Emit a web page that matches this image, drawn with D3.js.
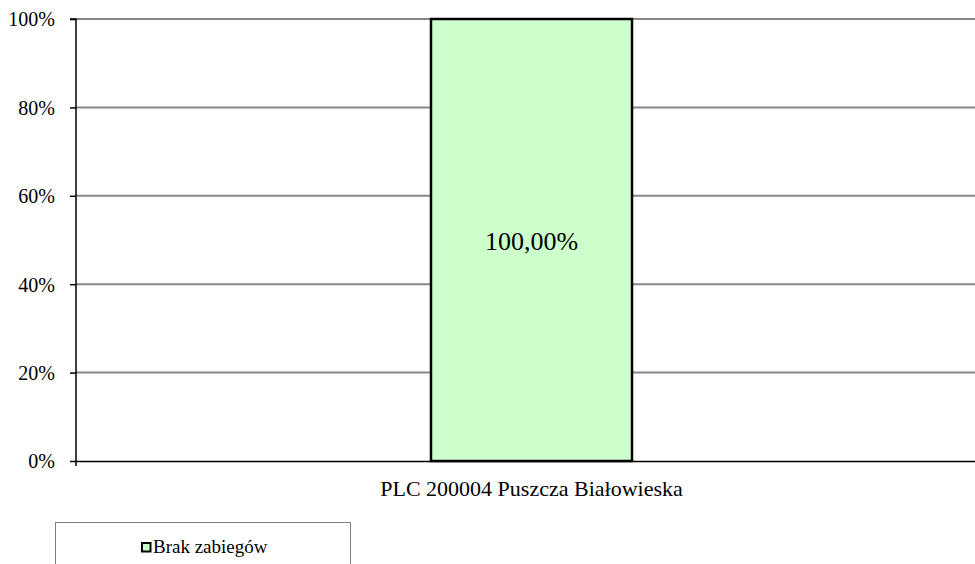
<!DOCTYPE html>
<html>
<head>
<meta charset="utf-8">
<script src="https://cdn.jsdelivr.net/npm/d3@7"></script>
<style>
  html, body { margin: 0; padding: 0; background: #fff; }
  svg { display: block; }
  svg text { font-family: "Liberation Serif", "Times New Roman", "DejaVu Serif", serif; fill: #000; }
</style>
</head>
<body>
<svg id="chart" width="975" height="564"></svg>
<script>
// Data
const categories = ["PLC 200004 Puszcza Białowieska"];
const seriesName = "Brak zabiegów";
const seriesValues = [1.0];
const valueLabels = ["100,00%"];
const yTicks = [0, 0.2, 0.4, 0.6, 0.8, 1.0];
const yTickLabels = ["0%", "20%", "40%", "60%", "80%", "100%"];

(function draw() {
  const svg = d3.select("#chart");

  const plotLeft = 76, plotRight = 987, plotTop = 19, plotBottom = 461;

  const x = d3.scaleBand()
    .domain(categories)
    .range([plotLeft, plotRight])
    .paddingInner(0)
    .paddingOuter(1.766);

  const y = d3.scaleLinear().domain([0, 1]).range([plotBottom, plotTop]);

  // Horizontal gridlines
  svg.append("g")
    .selectAll("line")
    .data(yTicks.filter(d => d > 0))
    .join("line")
    .attr("x1", plotLeft).attr("x2", plotRight)
    .attr("y1", d => y(d)).attr("y2", d => y(d))
    .attr("stroke", "#878787")
    .attr("stroke-width", 2);

  // Bars
  svg.append("g")
    .selectAll("rect")
    .data(categories)
    .join("rect")
    .attr("x", d => x(d))
    .attr("y", (d, i) => y(seriesValues[i]))
    .attr("width", x.bandwidth())
    .attr("height", (d, i) => y(0) - y(seriesValues[i]))
    .attr("fill", "#ccffcc")
    .attr("stroke", "#000")
    .attr("stroke-width", 2.5);

  // Value labels
  svg.append("g")
    .selectAll("text")
    .data(categories)
    .join("text")
    .attr("x", d => x(d) + x.bandwidth() / 2)
    .attr("y", (d, i) => y(seriesValues[i] * 0.5) + 9.5)
    .attr("text-anchor", "middle")
    .style("font-size", "26px")
    .text((d, i) => valueLabels[i]);

  // Y axis
  const yAxis = d3.axisLeft(y)
    .tickValues(yTicks)
    .tickFormat((d, i) => yTickLabels[i])
    .tickSize(6)
    .tickPadding(15);

  const gy = svg.append("g")
    .attr("transform", `translate(${plotLeft},0)`)
    .call(yAxis);
  gy.attr("font-family", null).attr("font-size", null);
  gy.select(".domain").attr("stroke", "#000").attr("stroke-width", 1.5)
    .attr("d", `M-6,${plotTop}H0V${plotBottom + 5}`);
  gy.selectAll(".tick line").attr("stroke", "#000").attr("stroke-width", 1.5);
  gy.selectAll(".tick text")
    .style("font-size", "20px")
    .attr("dy", "0.34em");

  // X axis
  const xAxis = d3.axisBottom(x).tickSize(0).tickPadding(0);
  const gx = svg.append("g")
    .attr("transform", `translate(0,${plotBottom})`)
    .call(xAxis);
  gx.attr("font-family", null).attr("font-size", null);
  gx.select(".domain").attr("stroke", "#000").attr("stroke-width", 1.5);
  gx.selectAll(".tick text")
    .style("font-size", "22px")
    .attr("y", 35)
    .attr("dy", 0);

  // Legend
  const legend = svg.append("g");
  legend.append("rect")
    .attr("x", 55.5).attr("y", 522.5)
    .attr("width", 295).attr("height", 60)
    .attr("fill", "#fff")
    .attr("stroke", "#7f7f7f")
    .attr("stroke-width", 1);
  legend.append("rect")
    .attr("x", 142).attr("y", 543)
    .attr("width", 8.5).attr("height", 8.5)
    .attr("fill", "#ccffcc")
    .attr("stroke", "#000")
    .attr("stroke-width", 2);
  legend.append("text")
    .attr("x", 153).attr("y", 552.5)
    .style("font-size", "19px")
    .text(seriesName);
})();
</script>
</body>
</html>
